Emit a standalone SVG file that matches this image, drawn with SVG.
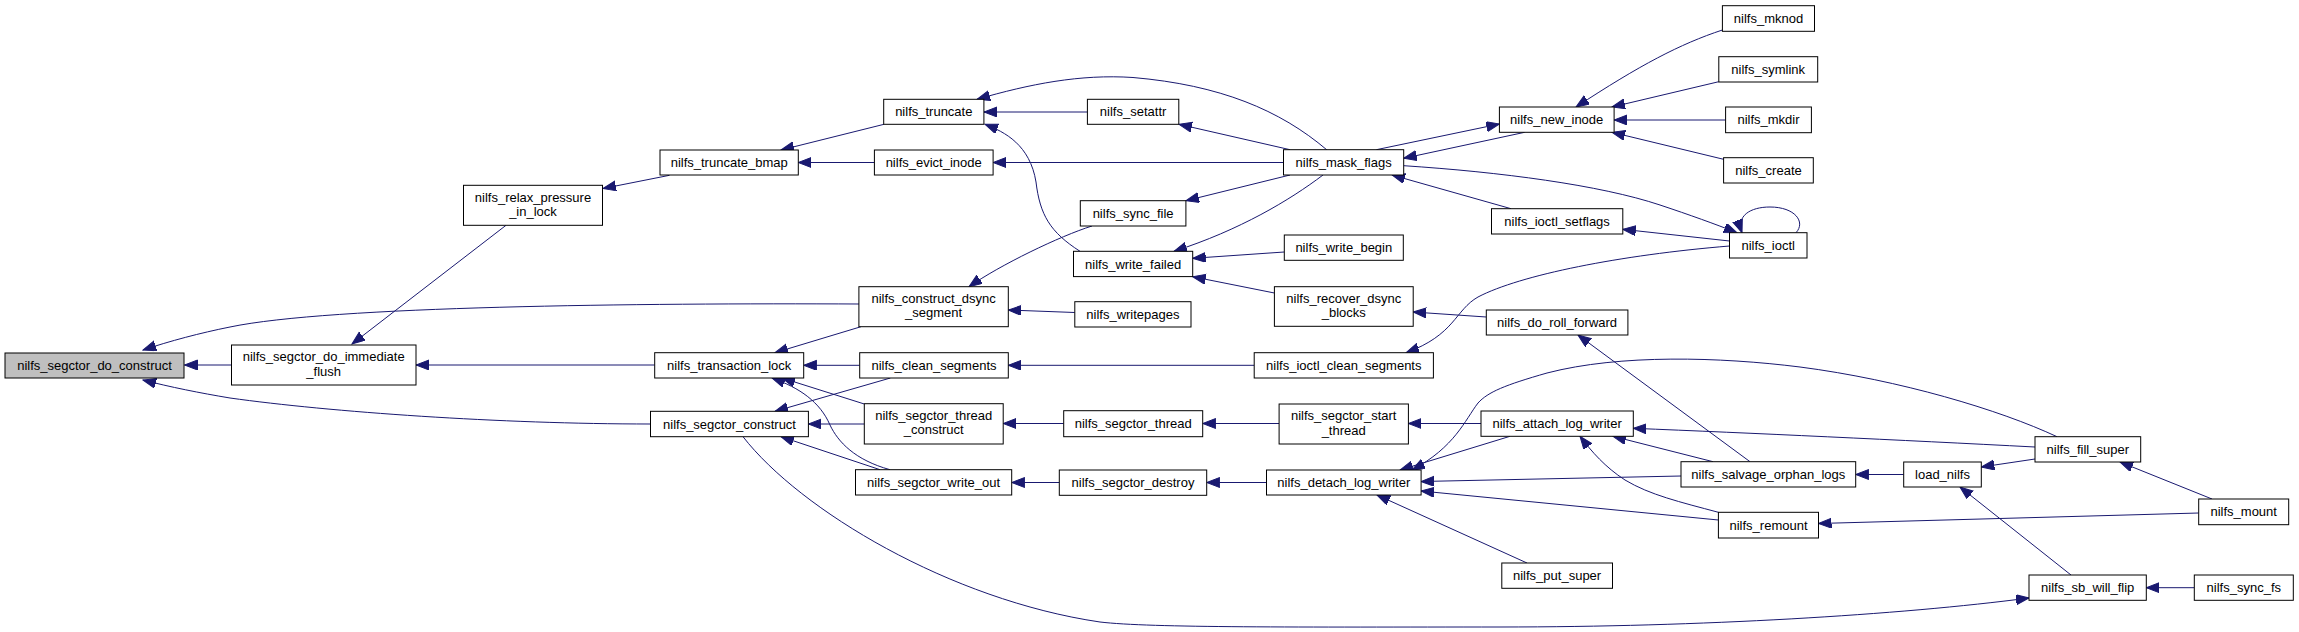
<svg xmlns="http://www.w3.org/2000/svg" width="2299" height="632" viewBox="0 0 2299 632">
<defs>
<marker id="ah" markerUnits="userSpaceOnUse" markerWidth="14" markerHeight="11" refX="13" refY="5" orient="auto">
<path d="M0,0 L13,5 L0,10 Z" fill="#191970" stroke="#191970" stroke-width="1"/>
</marker>
</defs>
<style>
.node rect{fill:#ffffff;stroke:#000000;stroke-width:1}
.node.root rect{fill:#bfbfbf}
.node text{font-family:"Liberation Sans",Arial,sans-serif;font-size:13px;fill:#000000;text-anchor:middle}
.edge{fill:none;stroke:#191970;stroke-width:1;marker-end:url(#ah)}
</style>
<rect width="2299" height="632" fill="#ffffff"/>
<g id="edges">
<path class="edge" d="M231.5,365 L184.5,365"/>
<path class="edge" d="M859,304 C640,303 330,306 230,327 C200,333 170,341 143,350"/>
<path class="edge" d="M650.5,424 C500,424 330,412 230,398 C200,393 170,387 143,380"/>
<path class="edge" d="M506,225.3 L352,344"/>
<path class="edge" d="M654.7,365 L416,365"/>
<path class="edge" d="M669.5,175.3 L603,188.5"/>
<path class="edge" d="M884,124.3 L781,150"/>
<path class="edge" d="M874.4,162.5 L798.3,162.5"/>
<path class="edge" d="M1087.4,112 L984,112"/>
<path class="edge" d="M1327,150 C1280,110 1220,85 1133,77.5 C1080,74 1030,84 977,99.3"/>
<path class="edge" d="M1080,251.3 C1050,232 1040,215 1036,182 C1030,145 1005,132 985,124.3"/>
<path class="edge" d="M1283.5,162.5 L993.1,162.5"/>
<path class="edge" d="M1290,149.7 L1179,124.3"/>
<path class="edge" d="M1290,175 L1186,200.7"/>
<path class="edge" d="M1323,175 C1290,200 1240,230 1174,251.3"/>
<path class="edge" d="M1284.3,252 L1192.7,258.3"/>
<path class="edge" d="M1274.4,293 L1192.7,276.7"/>
<path class="edge" d="M1092,226 C1060,236 1000,265 969,286.7"/>
<path class="edge" d="M1074.8,312.5 L1008.3,310"/>
<path class="edge" d="M861,326.7 L775,352.7"/>
<path class="edge" d="M859.7,365.3 L803.7,365.3"/>
<path class="edge" d="M864.3,404 L782,378"/>
<path class="edge" d="M890,469.7 C855,460 838,442 830,425 C820,402 800,388 772,378"/>
<path class="edge" d="M890.4,378 L775,411.3"/>
<path class="edge" d="M864.3,424 L808.4,424"/>
<path class="edge" d="M880,469.7 L781,436.7"/>
<path class="edge" d="M743,436.7 C800,510 950,600 1100,622 C1150,628 1300,627 1500,627 C1700,627 1900,615 2029,598"/>
<path class="edge" d="M1254.2,365.3 L1008.3,365.3"/>
<path class="edge" d="M1063.7,423.5 L1003.2,423.5"/>
<path class="edge" d="M1059.3,482.5 L1011.7,482.5"/>
<path class="edge" d="M1279.1,423.5 L1202.7,423.5"/>
<path class="edge" d="M1266.5,482.5 L1206.7,482.5"/>
<path class="edge" d="M1481,423.5 L1408.4,423.5"/>
<path class="edge" d="M1510,436.3 L1400,470"/>
<path class="edge" d="M2057,436.7 C2000,410 1900,380 1800,367 C1720,357 1620,354 1547,373 C1505,385 1488,392 1478,403 C1465,420 1455,447 1412,470"/>
<path class="edge" d="M1681,476 L1421.1,481.5"/>
<path class="edge" d="M1718.4,520 L1421.1,491"/>
<path class="edge" d="M1527,563 L1377,495"/>
<path class="edge" d="M1713,461.7 L1613,436.3"/>
<path class="edge" d="M1718.4,512.3 C1680,502 1650,495 1625,480 C1605,467 1592,452 1580,436.3"/>
<path class="edge" d="M2035,447 C1900,440 1750,433 1633.3,428.3"/>
<path class="edge" d="M1750,461.7 L1578,335"/>
<path class="edge" d="M1486.3,317 L1413.2,312"/>
<path class="edge" d="M1729.5,246 C1620,255 1520,275 1478,297 C1455,310 1455,335 1406,352.7"/>
<path class="edge" d="M1903.7,474.5 L1855.7,474.5"/>
<path class="edge" d="M2035,459 L1981.3,467"/>
<path class="edge" d="M2071,575 L1960,487"/>
<path class="edge" d="M2212,499 L2120,462"/>
<path class="edge" d="M2198.7,513 L1818.5,523.5"/>
<path class="edge" d="M2194.3,587.7 L2146.3,587.7"/>
<path class="edge" d="M1722.4,30 C1680,44 1640,65 1576,107"/>
<path class="edge" d="M1718.8,81.7 L1612,107"/>
<path class="edge" d="M1725.6,120 L1614.1,120"/>
<path class="edge" d="M1723.6,159.3 L1612,132.3"/>
<path class="edge" d="M1524.7,132.3 L1403.7,158.3"/>
<path class="edge" d="M1376.4,149.7 L1499.4,124"/>
<path class="edge" d="M1511,208.7 L1392,175"/>
<path class="edge" d="M1729.5,241 L1622.8,229.3"/>
<path class="edge" d="M1403.7,165.7 C1500,172 1600,185 1660,205 C1690,215 1715,224 1737,232.7"/>
<path class="edge" d="M1796,232.7 C1806,222 1795,207 1770,207 C1750,207 1736,216 1742,232.7"/>
</g>
<g id="n1" class="node root"><rect x="5" y="353" width="179" height="25"/><text x="94.5" y="370">nilfs_segctor_do_construct</text></g>
<g id="n2" class="node"><rect x="231.5" y="345" width="184.5" height="40"/><text x="323.7" y="361.3">nilfs_segctor_do_immediate</text><text x="323.7" y="375.6">_flush</text></g>
<g id="n3" class="node"><rect x="463.5" y="185.3" width="139" height="40"/><text x="533" y="201.6">nilfs_relax_pressure</text><text x="533" y="215.9">_in_lock</text></g>
<g id="n4" class="node"><rect x="660" y="150" width="138.3" height="25"/><text x="729.2" y="167">nilfs_truncate_bmap</text></g>
<g id="n5" class="node"><rect x="883.7" y="99.3" width="100.2" height="25"/><text x="933.8" y="116.3">nilfs_truncate</text></g>
<g id="n6" class="node"><rect x="874.4" y="150" width="118.7" height="25"/><text x="933.7" y="167">nilfs_evict_inode</text></g>
<g id="n7" class="node"><rect x="1087.4" y="99.3" width="91.4" height="25"/><text x="1133.1" y="116.3">nilfs_setattr</text></g>
<g id="n8" class="node"><rect x="1080.3" y="200.7" width="105.6" height="25.3"/><text x="1133.1" y="217.8">nilfs_sync_file</text></g>
<g id="n9" class="node"><rect x="1073.5" y="251.3" width="119.2" height="25.3"/><text x="1133.1" y="268.5">nilfs_write_failed</text></g>
<g id="n10" class="node"><rect x="858.9" y="286.7" width="149.4" height="40"/><text x="933.6" y="303">nilfs_construct_dsync</text><text x="933.6" y="317.3">_segment</text></g>
<g id="n11" class="node"><rect x="1074.8" y="301.7" width="116.2" height="25.3"/><text x="1132.9" y="318.8">nilfs_writepages</text></g>
<g id="n12" class="node"><rect x="654.7" y="352.7" width="149" height="25.3"/><text x="729.2" y="369.8">nilfs_transaction_lock</text></g>
<g id="n13" class="node"><rect x="859.7" y="352.7" width="148.6" height="25.3"/><text x="934" y="369.8">nilfs_clean_segments</text></g>
<g id="n14" class="node"><rect x="650.5" y="411.3" width="157.9" height="25.4"/><text x="729.5" y="428.5">nilfs_segctor_construct</text></g>
<g id="n15" class="node"><rect x="864.3" y="403.7" width="138.9" height="40.3"/><text x="933.7" y="420.1">nilfs_segctor_thread</text><text x="933.7" y="434.4">_construct</text></g>
<g id="n16" class="node"><rect x="1063.7" y="410.7" width="139" height="26"/><text x="1133.2" y="428.2">nilfs_segctor_thread</text></g>
<g id="n17" class="node"><rect x="855.5" y="469.7" width="156.2" height="25.3"/><text x="933.6" y="486.8">nilfs_segctor_write_out</text></g>
<g id="n18" class="node"><rect x="1059.3" y="470" width="147.4" height="25.3"/><text x="1133" y="487.1">nilfs_segctor_destroy</text></g>
<g id="n19" class="node"><rect x="1283.5" y="149.7" width="120.2" height="25.3"/><text x="1343.6" y="166.8">nilfs_mask_flags</text></g>
<g id="n20" class="node"><rect x="1284.3" y="235" width="119" height="25.3"/><text x="1343.8" y="252.1">nilfs_write_begin</text></g>
<g id="n21" class="node"><rect x="1274.4" y="286.7" width="138.8" height="39.6"/><text x="1343.8" y="302.8">nilfs_recover_dsync</text><text x="1343.8" y="317.1">_blocks</text></g>
<g id="n22" class="node"><rect x="1254.2" y="352.7" width="179.2" height="25.3"/><text x="1343.8" y="369.8">nilfs_ioctl_clean_segments</text></g>
<g id="n23" class="node"><rect x="1279.1" y="404" width="129.3" height="40"/><text x="1343.7" y="420.3">nilfs_segctor_start</text><text x="1343.7" y="434.6">_thread</text></g>
<g id="n24" class="node"><rect x="1266.5" y="470" width="154.6" height="25"/><text x="1343.8" y="487">nilfs_detach_log_writer</text></g>
<g id="n25" class="node"><rect x="1499.4" y="107" width="114.7" height="25.3"/><text x="1556.7" y="124.2">nilfs_new_inode</text></g>
<g id="n26" class="node"><rect x="1491.5" y="208.7" width="131.3" height="25.3"/><text x="1557.1" y="225.8">nilfs_ioctl_setflags</text></g>
<g id="n27" class="node"><rect x="1486.3" y="310" width="141.6" height="25"/><text x="1557.1" y="327">nilfs_do_roll_forward</text></g>
<g id="n28" class="node"><rect x="1481" y="411" width="152.3" height="25.3"/><text x="1557.1" y="428.2">nilfs_attach_log_writer</text></g>
<g id="n29" class="node"><rect x="1501.8" y="563" width="110.7" height="25.3"/><text x="1557.1" y="580.2">nilfs_put_super</text></g>
<g id="n30" class="node"><rect x="1722.4" y="5.7" width="92.1" height="25.6"/><text x="1768.5" y="23">nilfs_mknod</text></g>
<g id="n31" class="node"><rect x="1718.8" y="56.7" width="98.9" height="25.3"/><text x="1768.2" y="73.8">nilfs_symlink</text></g>
<g id="n32" class="node"><rect x="1725.6" y="107" width="85.8" height="25.7"/><text x="1768.5" y="124.3">nilfs_mkdir</text></g>
<g id="n33" class="node"><rect x="1723.6" y="157.7" width="89.7" height="25.3"/><text x="1768.5" y="174.8">nilfs_create</text></g>
<g id="n34" class="node"><rect x="1729.5" y="232.7" width="77.5" height="25.3"/><text x="1768.2" y="249.8">nilfs_ioctl</text></g>
<g id="n35" class="node"><rect x="1681" y="461.7" width="174.7" height="25.3"/><text x="1768.3" y="478.8">nilfs_salvage_orphan_logs</text></g>
<g id="n36" class="node"><rect x="1718.4" y="512.3" width="100.1" height="25.7"/><text x="1768.5" y="529.7">nilfs_remount</text></g>
<g id="n37" class="node"><rect x="1903.7" y="462" width="77.6" height="25"/><text x="1942.5" y="479">load_nilfs</text></g>
<g id="n38" class="node"><rect x="2035" y="436.7" width="105.7" height="25.3"/><text x="2087.8" y="453.8">nilfs_fill_super</text></g>
<g id="n39" class="node"><rect x="2029" y="575" width="117.3" height="25.3"/><text x="2087.7" y="592.2">nilfs_sb_will_flip</text></g>
<g id="n40" class="node"><rect x="2198.7" y="499" width="90" height="25.7"/><text x="2243.7" y="516.3">nilfs_mount</text></g>
<g id="n41" class="node"><rect x="2194.3" y="575" width="99" height="25.3"/><text x="2243.8" y="592.2">nilfs_sync_fs</text></g>
</svg>
